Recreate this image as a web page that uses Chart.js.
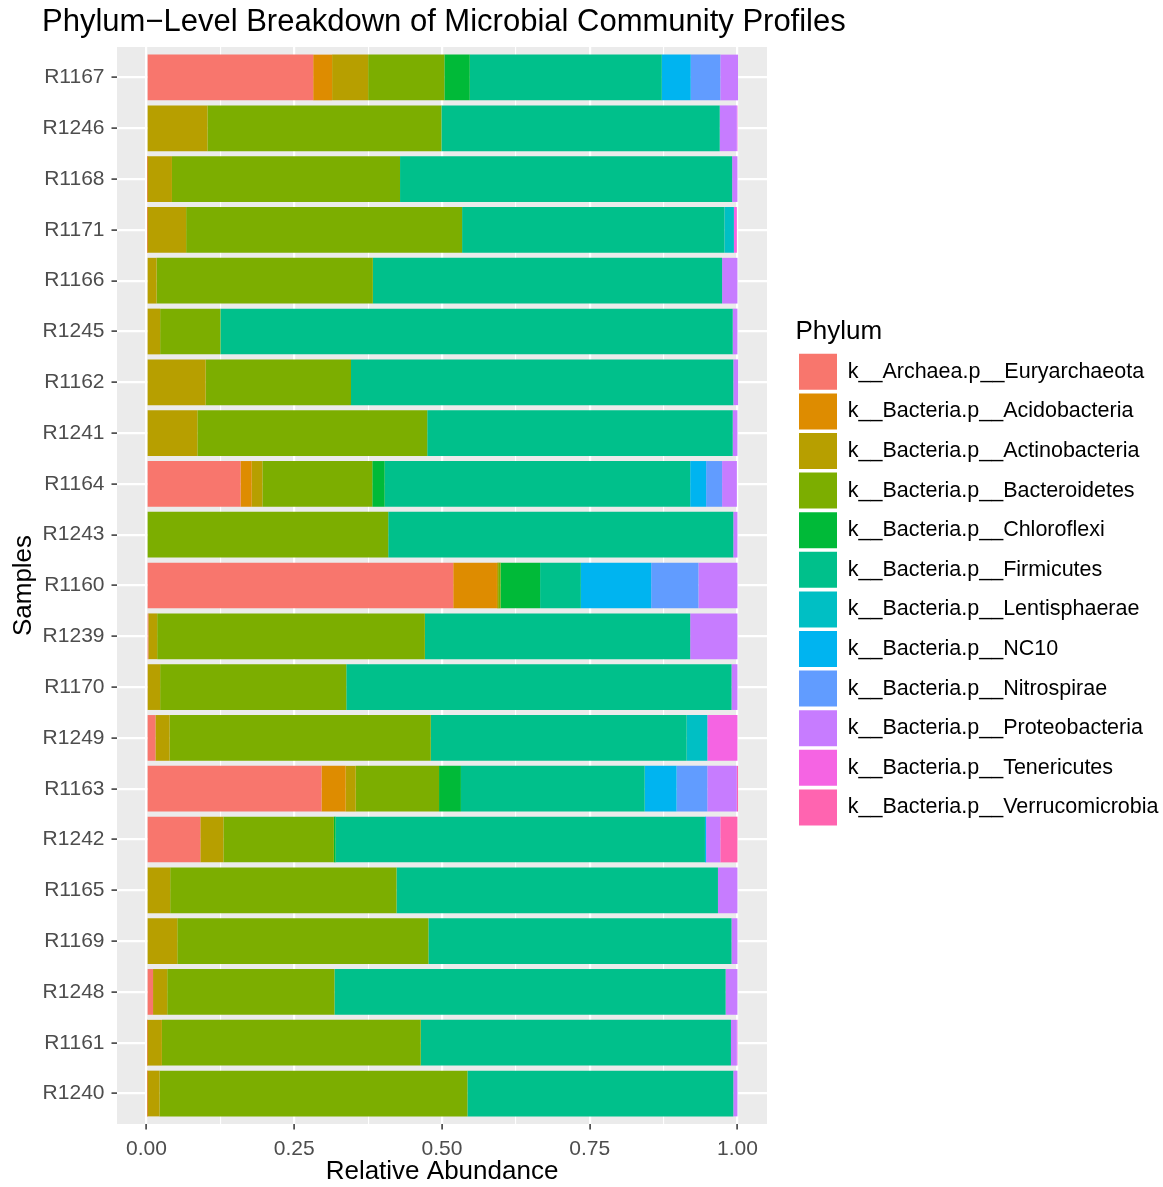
<!DOCTYPE html>
<html lang="en">
<head>
  <meta charset="UTF-8">
  <title>Phylum-Level Breakdown of Microbial Community Profiles</title>
  <script src="https://cdn.jsdelivr.net/npm/chart.js"></script>
  <style>
    body { margin: 0; background: #fff; }
    #wrap { width: 1163px; height: 1187px; }
  </style>
</head>
<body>
  <div id="wrap"><canvas id="phylumChart"></canvas></div>

  <script>
    // samples, top to bottom
    const samples = ['R1167', 'R1246', 'R1168', 'R1171', 'R1166', 'R1245', 'R1162', 'R1241', 'R1164', 'R1243',
      'R1160', 'R1239', 'R1170', 'R1249', 'R1163', 'R1242', 'R1165', 'R1169', 'R1248', 'R1161', 'R1240'];

    const phyla = ['k__Archaea.p__Euryarchaeota', 'k__Bacteria.p__Acidobacteria', 'k__Bacteria.p__Actinobacteria',
      'k__Bacteria.p__Bacteroidetes', 'k__Bacteria.p__Chloroflexi', 'k__Bacteria.p__Firmicutes',
      'k__Bacteria.p__Lentisphaerae', 'k__Bacteria.p__NC10', 'k__Bacteria.p__Nitrospirae',
      'k__Bacteria.p__Proteobacteria', 'k__Bacteria.p__Tenericutes', 'k__Bacteria.p__Verrucomicrobia'];

    const phylaColors = ['#F8766D', '#DE8C00', '#B79F00', '#7CAE00', '#00BA38', '#00C08B',
      '#00BFC4', '#00B4F0', '#619CFF', '#C77CFF', '#F564E3', '#FF64B0'];

    // relative abundance per phylum, same order as samples
    const euryarchaeota   = [0.282, 0, 0.001, 0.001, 0, 0, 0, 0, 0.159, 0, 0.519, 0.003, 0.002, 0.015, 0.296, 0.091, 0, 0, 0.011, 0.001, 0.001];
    const acidobacteria   = [0.032, 0, 0, 0, 0, 0, 0, 0, 0.019, 0, 0.074, 0, 0, 0, 0.041, 0, 0, 0, 0, 0, 0];
    const actinobacteria  = [0.061, 0.103, 0.042, 0.066, 0.017, 0.023, 0.100, 0.086, 0.018, 0, 0.002, 0.015, 0.021, 0.024, 0.017, 0.039, 0.040, 0.052, 0.024, 0.025, 0.021];
    const bacteroidetes   = [0.129, 0.396, 0.386, 0.467, 0.366, 0.102, 0.246, 0.389, 0.186, 0.409, 0.004, 0.453, 0.315, 0.442, 0.141, 0.187, 0.383, 0.425, 0.283, 0.438, 0.521];
    const chloroflexi     = [0.043, 0, 0, 0, 0, 0, 0, 0, 0.021, 0, 0.067, 0, 0, 0, 0.037, 0.003, 0, 0, 0, 0, 0];
    const firmicutes      = [0.325, 0.471, 0.562, 0.444, 0.591, 0.867, 0.647, 0.517, 0.517, 0.584, 0.069, 0.449, 0.652, 0.433, 0.311, 0.625, 0.544, 0.513, 0.662, 0.525, 0.450];
    const lentisphaerae   = [0, 0, 0, 0.016, 0, 0, 0, 0, 0, 0, 0, 0, 0, 0.035, 0, 0, 0, 0, 0, 0, 0];
    const nc10            = [0.049, 0, 0, 0, 0, 0, 0, 0, 0.027, 0, 0.119, 0, 0, 0, 0.054, 0.002, 0, 0, 0, 0, 0];
    const nitrospirae     = [0.050, 0, 0, 0, 0, 0, 0, 0, 0.027, 0, 0.080, 0, 0, 0, 0.052, 0, 0, 0, 0, 0, 0];
    const proteobacteria  = [0.030, 0.029, 0.009, 0, 0.026, 0.008, 0.008, 0.008, 0.025, 0.007, 0.066, 0.080, 0.010, 0, 0.050, 0.024, 0.033, 0.010, 0.020, 0.010, 0.007];
    const tenericutes     = [0, 0.001, 0, 0.005, 0, 0, 0, 0, 0, 0, 0, 0, 0, 0.051, 0, 0, 0, 0, 0, 0.001, 0];
    const verrucomicrobia = [0, 0, 0, 0, 0, 0, 0, 0, 0, 0, 0, 0, 0, 0, 0.002, 0.029, 0, 0, 0, 0, 0];

    const seriesValues = [euryarchaeota, acidobacteria, actinobacteria, bacteroidetes, chloroflexi, firmicutes,
      lentisphaerae, nc10, nitrospirae, proteobacteria, tenericutes, verrucomicrobia];

    const xTicks = [0, 0.125, 0.25, 0.375, 0.5, 0.625, 0.75, 0.875, 1];

    const FONT = '"Liberation Sans", Arial, Helvetica, sans-serif';
    const LEGEND_SIZE = 21.5;
    const BOX_W = 38;
    const LEG_PAD = 3.6;

    // legend should start at a fixed spot, so work out how wide it has to be
    const measureCtx = document.createElement('canvas').getContext('2d');
    measureCtx.font = LEGEND_SIZE + 'px ' + FONT;
    const longest = Math.max(...phyla.map(p => measureCtx.measureText(p).width));
    const legendWidth = LEG_PAD + BOX_W + LEGEND_SIZE / 2 + longest + 1;
    const legendLeft = 799 - LEG_PAD;
    const rightPad = Math.max(0, 1163 - legendLeft - legendWidth);

    // grey panel behind the grid, like ggplot's theme_gray
    const panelBg = {
      id: 'panelBg',
      beforeDraw(chart) {
        const {ctx, chartArea: a} = chart;
        ctx.save();
        ctx.fillStyle = '#EBEBEB';
        ctx.fillRect(a.left, a.top, a.right - a.left, a.bottom - a.top);
        ctx.restore();
      }
    };

    // plot title, left aligned like the original
    const plotTitle = {
      id: 'plotTitle',
      afterDraw(chart) {
        const ctx = chart.ctx;
        ctx.save();
        ctx.font = '31px ' + FONT;
        ctx.fillStyle = '#000';
        ctx.textBaseline = 'alphabetic';
        ctx.fillText('Phylum\u2212Level Breakdown of Microbial Community Profiles', 42, 31);
        ctx.restore();
      }
    };

    const datasets = phyla.map((name, k) => ({
      label: name,
      data: seriesValues[k].map((v, i) => ({x: v, y: i})),
      backgroundColor: phylaColors[k],
      borderWidth: 0,
      barPercentage: 0.9,
      categoryPercentage: 1.0
    }));

    new Chart(document.getElementById('phylumChart'), {
      type: 'bar',
      data: { datasets: datasets },
      plugins: [panelBg, plotTitle],
      options: {
        indexAxis: 'y',
        responsive: true,
        maintainAspectRatio: false,
        animation: false,
        layout: { padding: { top: 47, left: 0, right: rightPad, bottom: 0 } },
        scales: {
          x: {
            type: 'linear',
            stacked: true,
            min: -0.05,
            max: 1.05,
            afterBuildTicks(scale) { scale.ticks = xTicks.map(v => ({value: v})); },
            afterFit(scale) { scale.height = 63; },
            border: { display: false },
            grid: {
              color: '#FFFFFF',
              lineWidth: c => (c.index % 2 ? 1.1 : 2.2),
              tickColor: c => (c.index % 2 ? 'rgba(0,0,0,0)' : '#333333'),
              tickWidth: 1.5,
              tickLength: 5.5
            },
            ticks: {
              autoSkip: false,
              maxRotation: 0,
              padding: 7,
              color: '#4D4D4D',
              font: { family: FONT, size: 21 },
              callback: (v, i) => (i % 2 ? '' : Number(v).toFixed(2))
            },
            title: {
              display: true,
              text: 'Relative Abundance',
              color: '#000',
              font: { family: FONT, size: 26 },
              padding: { top: 0, bottom: 0 }
            }
          },
          y: {
            type: 'linear',
            stacked: true,
            reverse: true,
            offset: false,
            min: -0.6,
            max: samples.length - 0.4,
            afterBuildTicks(scale) { scale.ticks = samples.map((s, i) => ({value: i})); },
            afterFit(scale) { scale.width = 117; },
            border: { display: false },
            grid: {
              offset: false,
              color: '#FFFFFF',
              lineWidth: 2.2,
              tickColor: '#333333',
              tickWidth: 1.5,
              tickLength: 5.5
            },
            ticks: {
              autoSkip: false,
              padding: 7,
              color: '#4D4D4D',
              font: { family: FONT, size: 21 },
              callback: v => samples[v]
            },
            title: {
              display: true,
              text: 'Samples',
              color: '#000',
              font: { family: FONT, size: 26 },
              padding: { top: 8, bottom: 0 }
            }
          },
          gap: {
            type: 'linear',
            position: 'right',
            display: true,
            afterFit(scale) { scale.width = legendLeft - 767; },
            border: { display: false },
            grid: { display: false, drawTicks: false },
            ticks: { display: false }
          }
        },
        plugins: {
          tooltip: { enabled: false },
          legend: {
            position: 'right',
            align: 'start',
            fullSize: false,
            maxWidth: legendWidth,
            title: {
              display: true,
              text: 'Phylum',
              position: 'start',
              color: '#000',
              font: { family: FONT, size: 26 },
              padding: { top: 272, bottom: 0 }
            },
            labels: {
              boxWidth: BOX_W,
              boxHeight: 36,
              padding: LEG_PAD,
              color: '#000',
              font: { family: FONT, size: LEGEND_SIZE }
            }
          }
        }
      }
    });
  </script>
</body>
</html>
